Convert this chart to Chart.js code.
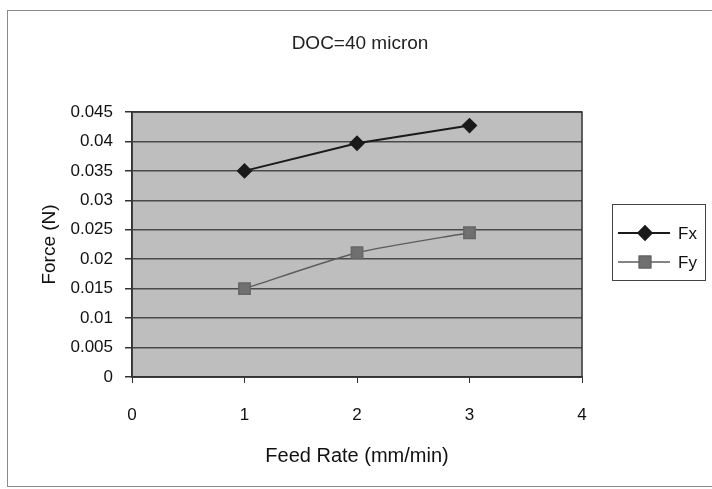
<!DOCTYPE html>
<html>
<head>
<meta charset="utf-8">
<script src="https://cdn.jsdelivr.net/npm/chart.js@4"></script>
<style>
  html, body { margin: 0; padding: 0; background: #fff; }
  #wrap { width: 712px; height: 489px; }
</style>
</head>
<body>
<div id="wrap"><canvas id="forceChart" width="712" height="489"></canvas></div>
<script>
// values
const feedRates = [1, 2, 3];
const fxValues = [0.035, 0.0397, 0.0427];
const fyValues = [0.015, 0.0211, 0.0245];
const seriesNames = ['Fx', 'Fy'];
const chartTitle = 'DOC=40 micron';

const FONT = "'Liberation Sans', Arial, sans-serif";

// gray plot area + frame, outer border of the scan, title over the plot
const plotBackground = {
  id: 'plotBackground',
  beforeDraw(chart) {
    const { ctx, chartArea: a } = chart;
    ctx.save();
    ctx.strokeStyle = '#8a8a8a';
    ctx.lineWidth = 1;
    ctx.strokeRect(7.5, 10.5, 720, 476);
    ctx.fillStyle = '#bebebe';
    ctx.fillRect(a.left, a.top, a.right - a.left, a.bottom - a.top);
    ctx.fillStyle = '#222';
    ctx.font = '19px ' + FONT;
    ctx.textAlign = 'center';
    ctx.textBaseline = 'middle';
    ctx.fillText(chartTitle, 360, 44);
    ctx.restore();
  },
  afterDatasetsDraw(chart) {
    const { ctx, chartArea: a } = chart;
    ctx.save();
    ctx.strokeStyle = '#333';
    ctx.lineWidth = 1.5;
    ctx.strokeRect(a.left, a.top, a.right - a.left, a.bottom - a.top);
    ctx.restore();
  }
};

// excel style legend: line sample with marker in a box on the right
const boxLegend = {
  id: 'boxLegend',
  afterDraw(chart) {
    const { ctx } = chart;
    const x0 = 612, y0 = 204, w = 93, h = 76;
    ctx.save();
    ctx.fillStyle = '#fff';
    ctx.fillRect(x0, y0, w, h);
    ctx.strokeStyle = '#444';
    ctx.lineWidth = 1;
    ctx.strokeRect(x0 + 0.5, y0 + 0.5, w, h);
    chart.data.datasets.forEach((ds, i) => {
      const y = y0 + 29 + i * 29;
      ctx.strokeStyle = ds.borderColor;
      ctx.lineWidth = ds.borderWidth;
      ctx.beginPath();
      ctx.moveTo(x0 + 6, y);
      ctx.lineTo(x0 + 58, y);
      ctx.stroke();
      Chart.helpers.drawPoint(ctx, {
        pointStyle: ds.pointStyle,
        radius: ds.pointRadius,
        borderWidth: 1,
        rotation: 0
      }, x0 + 33, y);
      ctx.fillStyle = ds.pointBackgroundColor;
      ctx.strokeStyle = ds.pointBorderColor;
      ctx.fill();
      ctx.stroke();
      ctx.fillStyle = '#111';
      ctx.font = '17px ' + FONT;
      ctx.textBaseline = 'middle';
      ctx.fillText(ds.label, x0 + 66, y + 1);
    });
    ctx.restore();
  }
};

const ctx = document.getElementById('forceChart');
new Chart(ctx, {
  type: 'line',
  data: {
    datasets: [
      {
        label: seriesNames[0],
        data: feedRates.map((x, i) => ({ x: x, y: fxValues[i] })),
        borderColor: '#1a1a1a',
        borderWidth: 2,
        pointStyle: 'rectRot',
        pointRadius: 6.5,
        pointBackgroundColor: '#1a1a1a',
        pointBorderColor: '#1a1a1a',
        tension: 0
      },
      {
        label: seriesNames[1],
        data: feedRates.map((x, i) => ({ x: x, y: fyValues[i] })),
        borderColor: '#5c5c5c',
        borderWidth: 1.5,
        pointStyle: 'rect',
        pointRadius: 8,
        pointBackgroundColor: '#707070',
        pointBorderColor: '#666',
        tension: 0.2
      }
    ]
  },
  options: {
    responsive: false,
    animation: false,
    layout: { padding: { left: 0, right: 130, top: 112, bottom: 0 } },
    plugins: {
      legend: { display: false },
      tooltip: { enabled: false },
      title: { display: false }
    },
    scales: {
      x: {
        type: 'linear',
        min: 0,
        max: 4,
        ticks: { stepSize: 1, color: '#111', padding: 22, font: { family: FONT, size: 17 } },
        grid: { drawOnChartArea: false, drawTicks: true, tickLength: 6, color: '#333' },
        border: { color: '#333', width: 1.5 },
        title: {
          display: true,
          text: 'Feed Rate (mm/min)',
          color: '#111',
          font: { family: FONT, size: 20 },
          padding: { top: 0, bottom: 21 }
        },
        afterFit(scale) { scale.height = 112; }
      },
      y: {
        min: 0,
        max: 0.045,
        ticks: {
          stepSize: 0.005,
          color: '#111',
          padding: 12,
          font: { family: FONT, size: 17 },
          callback: v => +v.toFixed(3)
        },
        grid: { color: '#4a4a4a', lineWidth: 1.5, tickLength: 7, tickColor: '#333' },
        border: { color: '#333', width: 1.5 },
        title: {
          display: true,
          text: 'Force (N)',
          color: '#111',
          font: { family: FONT, size: 19 },
          padding: { top: 38, bottom: 0 }
        },
        afterFit(scale) { scale.width = 132; }
      }
    }
  },
  plugins: [plotBackground, boxLegend]
});
</script>
</body>
</html>
